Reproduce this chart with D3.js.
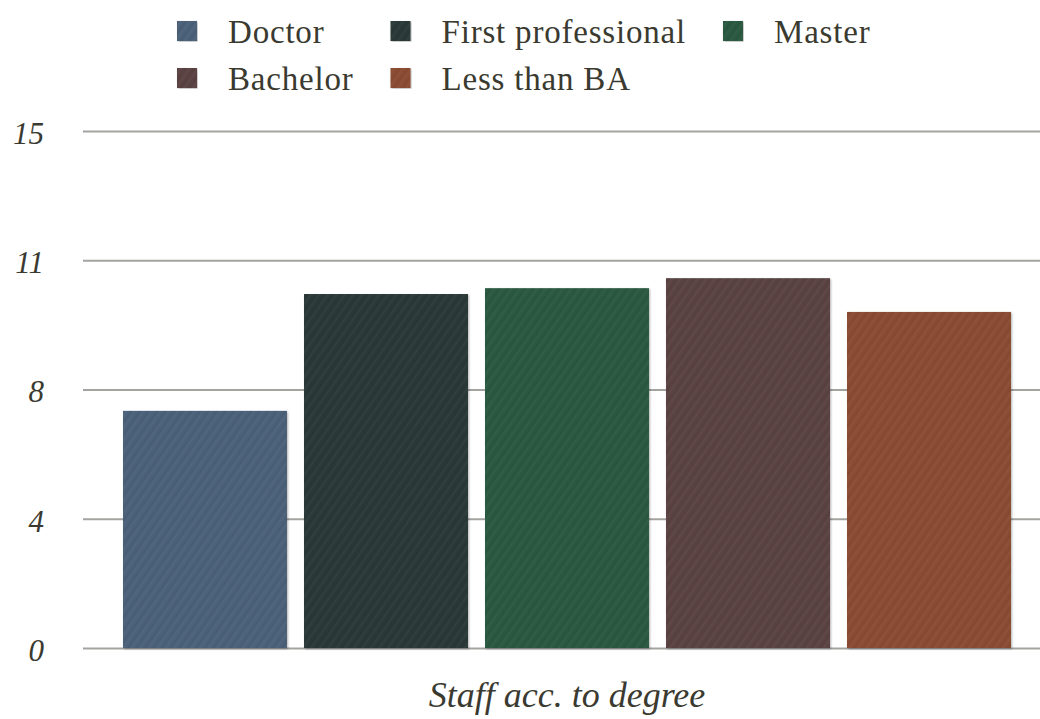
<!DOCTYPE html>
<html>
<head>
<meta charset="utf-8">
<script src="https://cdn.jsdelivr.net/npm/d3@7"></script>
<style>
  html, body { margin: 0; padding: 0; background: #ffffff; }
  svg { display: block; }
  text { font-family: "Liberation Serif", "DejaVu Serif", serif; fill: #3a3a30; }
</style>
</head>
<body>
<svg id="chart" width="1040" height="719"></svg>
<script>
// ---- data ----
const categories = ["Doctor", "First professional", "Master", "Bachelor", "Less than BA"];
const values = [6.88, 10.27, 10.44, 10.73, 9.75];
const colors = ["#4b6079", "#2b3837", "#2c5940", "#5a4343", "#8a4c33"];
const tickValues = [0, 3.75, 7.5, 11.25, 15];
const tickLabels = ["0", "4", "8", "11", "15"];
const axisTitle = "Staff acc. to degree";

const svg = d3.select("#chart");
const W = 1040, H = 719;

const x = d3.scaleBand().domain(categories).range([114.5, 1019.5]).paddingInner(0.094).paddingOuter(0.047);
const y = d3.scaleLinear().domain([0, 15]).range([648, 131]);

// defs: hatch texture + shadow
const defs = svg.append("defs");
const pat = defs.append("pattern")
  .attr("id", "hatch").attr("patternUnits", "userSpaceOnUse")
  .attr("width", 7).attr("height", 7)
  .attr("patternTransform", "rotate(35)");
pat.append("line").attr("x1", 0).attr("y1", 0).attr("x2", 0).attr("y2", 7)
  .attr("stroke", "#000").attr("stroke-opacity", 0.08).attr("stroke-width", 1.5);
pat.append("line").attr("x1", 3.5).attr("y1", 0).attr("x2", 3.5).attr("y2", 7)
  .attr("stroke", "#fff").attr("stroke-opacity", 0.04).attr("stroke-width", 1.5);
const flt = defs.append("filter").attr("id", "shadow").attr("x", "-5%").attr("y", "-5%").attr("width", "110%").attr("height", "110%");
flt.append("feDropShadow").attr("dx", 1).attr("dy", 1).attr("stdDeviation", 1.2)
  .attr("flood-color", "#000").attr("flood-opacity", 0.3);

// y axis gridlines + labels
const yAxis = d3.axisLeft(y)
  .tickValues(tickValues)
  .tickFormat((d, i) => tickLabels[i])
  .tickSize(-(W - 83))
  .tickPadding(39);
const gy = svg.append("g").attr("transform", "translate(83,0)").call(yAxis);
gy.select(".domain").remove();
gy.selectAll(".tick line").attr("stroke", "#a3a3a0").attr("stroke-width", 2);
gy.selectAll(".tick text")
  .attr("font-size", 31).attr("font-style", "italic")
  .attr("font-family", "Liberation Serif, serif")
  .attr("fill", "#3a3a30").attr("dy", "0.4em");

// bars
const bars = svg.append("g");
bars.selectAll("rect.bar").data(categories).join("rect")
  .attr("class", "bar")
  .attr("x", d => x(d)).attr("width", x.bandwidth())
  .attr("y", (d, i) => y(values[i]))
  .attr("height", (d, i) => y(0) - y(values[i]))
  .attr("fill", (d, i) => colors[i])
  .attr("filter", "url(#shadow)");
bars.selectAll("rect.tex").data(categories).join("rect")
  .attr("class", "tex")
  .attr("x", d => x(d)).attr("width", x.bandwidth())
  .attr("y", (d, i) => y(values[i]))
  .attr("height", (d, i) => y(0) - y(values[i]))
  .attr("fill", "url(#hatch)");

// axis title
svg.append("text")
  .attr("x", (x.range()[0] + x.range()[1]) / 2).attr("y", 707)
  .attr("text-anchor", "middle")
  .attr("font-size", 36).attr("font-style", "italic")
  .text(axisTitle);

// legend: 3 columns, 2 rows
const legend = svg.append("g");
const ncol = 3, rowH = 47, sq = 20, textGap = 31, colGap = 37;
const items = legend.selectAll("g.item").data(categories).join("g").attr("class", "item");
items.append("rect").attr("width", sq).attr("height", sq)
  .attr("fill", (d, i) => colors[i]).attr("filter", "url(#shadow)");
items.append("rect").attr("width", sq).attr("height", sq).attr("fill", "url(#hatch)");
items.append("text").attr("x", sq + textGap).attr("y", sq / 2).attr("dy", "0.35em")
  .attr("font-size", 33).attr("letter-spacing", 0.8)
  .text(d => d);
// compute column widths
const widths = [];
items.each(function(d, i) {
  const w = d3.select(this).select("text").node().getComputedTextLength();
  const c = i % ncol;
  widths[c] = Math.max(widths[c] || 0, sq + textGap + w);
});
const colX = [177];
for (let c = 1; c < ncol; c++) colX[c] = colX[c - 1] + widths[c - 1] + colGap;
items.attr("transform", (d, i) => `translate(${colX[i % ncol]},${21 + Math.floor(i / ncol) * rowH})`);
</script>
</body>
</html>
